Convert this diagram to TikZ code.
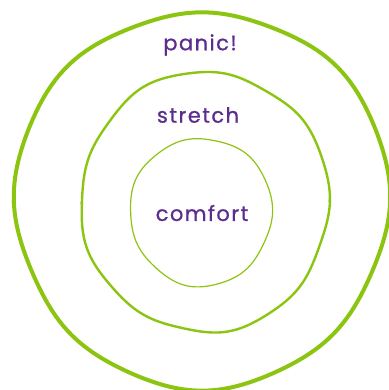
\documentclass[tikz,border=0pt]{standalone}
\usepackage{fontspec}
\setmainfont{Poppins}[LetterSpace=7, FakeBold=0.8]
\definecolor{ringgreen}{HTML}{8CC412}
\definecolor{wordpurple}{HTML}{5A2D8E}
\begin{document}
\begin{tikzpicture}[x=1pt,y=1pt,
            ring/.style={draw=ringgreen, line join=round, line cap=round},
            word/.style={text=wordpurple, font=\fontsize{21}{21}\selectfont}
            ]
            \useasboundingbox (0,0) rectangle (388,-390);

            % zones, outer to inner (each drawn as two open halves)
            \foreach \from/\to in {0/181, 180/361} {
              \draw[ring, line width=4pt, shift={(202,-200)}] plot[samples=91, domain=\from:\to]
                  (\x:{187+1.5*sin(3*\x)+1.2*cos(8*\x)} and {188+1.5*sin(3*\x)+1.2*cos(8*\x)});
              \draw[ring, line width=2.4pt, shift={(205,-202)}] plot[samples=91, domain=\from:\to]
                  (\x:{124+1.2*sin(4*\x)+0.9*cos(9*\x)} and {130+1.2*sin(4*\x)+0.9*cos(9*\x)});
              \draw[ring, line width=1.2pt, shift={(201,-212)}] plot[samples=91, domain=\from:\to]
                  (\x:{71+0.8*sin(3*\x)+0.6*cos(7*\x)} and {74+0.8*sin(3*\x)+0.6*cos(7*\x)});
            }

            \node[word] (panic) at (200,-45) {panic!};
            \node[word] (stretch) at (198,-115) {stretch};
            \node[word] (comfort) at (202,-213) {comfort};
            \end{tikzpicture}
\end{document}
